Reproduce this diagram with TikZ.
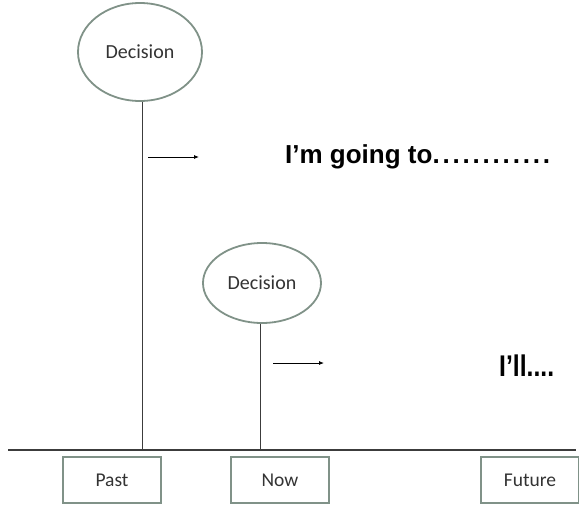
\documentclass[tikz,border=0pt]{standalone}
\usepackage{fontspec}
\setmainfont{Carlito}
\newfontfamily\arialfont{Liberation Sans}
\usetikzlibrary{shapes.geometric,arrows.meta}
\definecolor{frame}{RGB}{128,146,136}
\definecolor{linegray}{RGB}{60,60,60}
\newcommand{\wdot}{.\kern2.8pt}
\begin{document}
\begin{tikzpicture}[x=1pt,y=-1pt,
  decision/.style={ellipse,draw=frame,line width=1.8pt,minimum width=#1,font=\fontsize{20}{24}\selectfont,text=black!80},
  timebox/.style={rectangle,draw=frame,line width=1.8pt,minimum width=98pt,minimum height=46pt,font=\fontsize{19.5}{22}\selectfont,text=black!80},
  stem/.style={draw=linegray,line width=0.9pt},
  pointer/.style={draw=black,line width=0.8pt,-{Latex[length=5pt,width=4pt]}},
  saying/.style={font=\arialfont\bfseries\fontsize{26}{30}\selectfont,anchor=west,inner sep=0pt}
]
\useasboundingbox (0,0) rectangle (579,507);
\node[decision=124pt,minimum height=98pt] (d1) at (140,52) {Decision};
\node[decision=118pt,minimum height=80pt] (d2) at (262,283) {Decision};
\coordinate (tl) at (8,450);
\coordinate (tr) at (576,450);
\draw[draw=linegray,line width=1.6pt] (tl) -- (tr);
\coordinate (b1) at (142,450);
\coordinate (b2) at (260,450);
\draw[stem] (d1.south -| b1) -- (b1);
\draw[stem] (d2.south -| b2) -- (b2);
\node[timebox] (past) at (112,480) {Past};
\node[timebox] (now) at (280,480) {Now};
\node[timebox] (future) at (530,480) {Future};
\coordinate (a1s) at (148,157);
\coordinate (a1e) at (199,157);
\coordinate (a2s) at (273,363);
\coordinate (a2e) at (324,363);
\draw[pointer] (a1s) -- (a1e);
\draw[pointer] (a2s) -- (a2e);
\node[saying] (goingto) at (285,157) {I’m going to\wdot\wdot\wdot\wdot\wdot\wdot\wdot\wdot\wdot\wdot\wdot.};
\node[saying,yscale=1.15,xscale=0.95] (will) at (499,366) {I’ll....};
\end{tikzpicture}
\end{document}
